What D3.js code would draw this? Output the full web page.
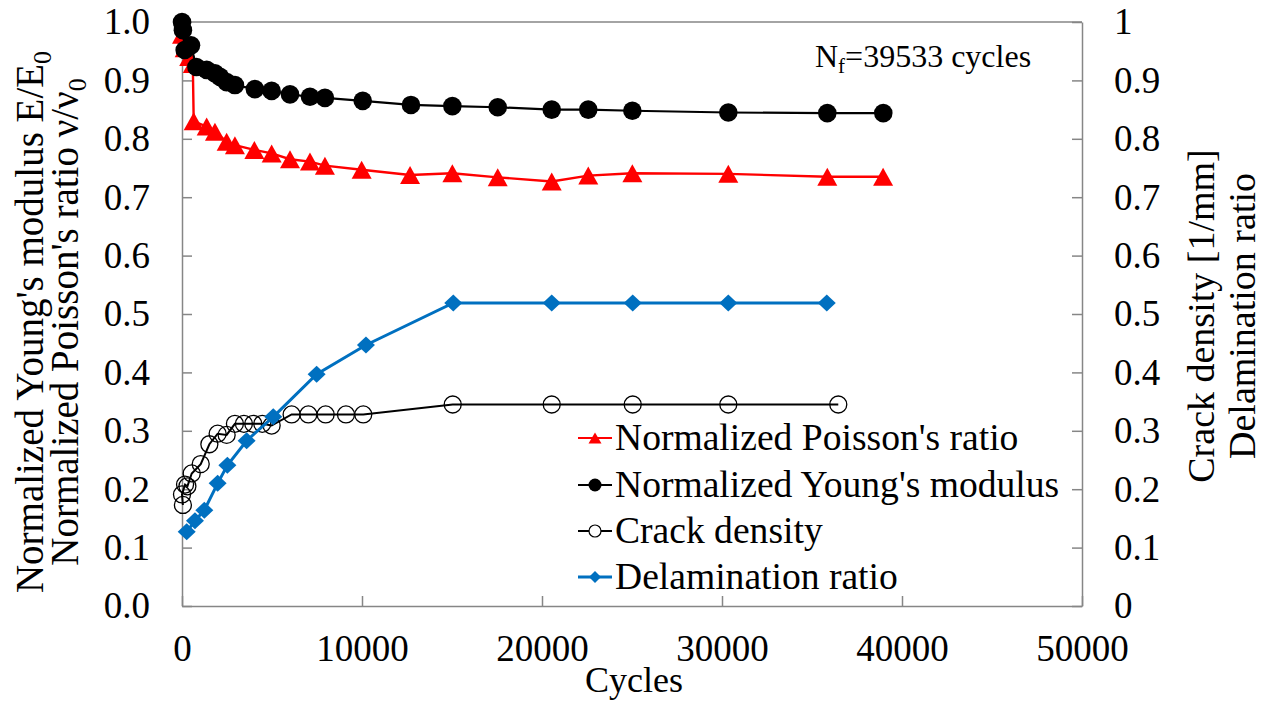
<!DOCTYPE html>
<html>
<head>
<meta charset="utf-8">
<script src="https://cdn.jsdelivr.net/npm/d3@7"></script>
<style>
  html, body { margin: 0; padding: 0; background: #fff; }
</style>
</head>
<body>
<svg id="chart" width="1274" height="704" font-family="Liberation Serif"></svg>
<script>
// ---------------- data ----------------
const poissonCycles = [0, 150, 400, 600, 650, 1370, 1830, 2480, 2940, 4020, 4980, 6000, 7110, 7940, 9980, 12670, 15020, 17540, 20540, 22570, 25020, 30350, 35850, 38950];
const poissonValues = [0.978, 0.955, 0.94, 0.928, 0.830, 0.821, 0.812, 0.795, 0.789, 0.781, 0.775, 0.765, 0.761, 0.754, 0.747, 0.738, 0.741, 0.734, 0.727, 0.737, 0.741, 0.740, 0.735, 0.735];

const youngCycles = [0, 50, 150, 500, 800, 1370, 1830, 2110, 2480, 2940, 4050, 4980, 6000, 7110, 7940, 10040, 12720, 15020, 17540, 20540, 22570, 25020, 30350, 35850, 38960];
const youngValues = [1.0, 0.986, 0.952, 0.96, 0.923, 0.918, 0.912, 0.906, 0.897, 0.892, 0.885, 0.882, 0.876, 0.872, 0.870, 0.865, 0.858, 0.856, 0.854, 0.850, 0.850, 0.848, 0.845, 0.844, 0.844];

const crackCycles = [50, 0, 170, 300, 540, 1040, 1520, 1980, 2480, 2940, 3440, 3960, 4460, 4980, 6090, 7020, 7980, 9110, 10070, 15040, 20540, 25040, 30350, 36460];
const crackValues = [0.173, 0.191, 0.208, 0.205, 0.227, 0.243, 0.277, 0.295, 0.293, 0.312, 0.312, 0.312, 0.312, 0.309, 0.328, 0.328, 0.328, 0.328, 0.328, 0.345, 0.345, 0.345, 0.345, 0.345];

const delamCycles = [260, 720, 1240, 1980, 2520, 3590, 5070, 7480, 10220, 15070, 20540, 25040, 30350, 35820];
const delamValues = [0.127, 0.146, 0.164, 0.210, 0.241, 0.283, 0.324, 0.397, 0.447, 0.519, 0.519, 0.519, 0.519, 0.519];

const xTickValues = [0, 10000, 20000, 30000, 40000, 50000];
const xTickLabels = ["0", "10000", "20000", "30000", "40000", "50000"];
const yTickValues = [0, 0.1, 0.2, 0.3, 0.4, 0.5, 0.6, 0.7, 0.8, 0.9, 1.0];
const yTickLabels = ["0.0", "0.1", "0.2", "0.3", "0.4", "0.5", "0.6", "0.7", "0.8", "0.9", "1.0"];
const y2TickLabels = ["0", "0.1", "0.2", "0.3", "0.4", "0.5", "0.6", "0.7", "0.8", "0.9", "1"];

const legendNames = ["Normalized Poisson's ratio", "Normalized Young's modulus", "Crack density", "Delamination ratio"];

// ---------------- layout ----------------
const FONT = "Liberation Serif";
const svg = d3.select("#chart");
const pLeft = 182, pRight = 1082, pTop = 22, pBottom = 606;
const x = d3.scaleLinear().domain([0, 50000]).range([pLeft, pRight]);
const y = d3.scaleLinear().domain([0, 1]).range([pBottom, pTop]);
const y2 = d3.scaleLinear().domain([0, 1]).range([pBottom, pTop]);
const axisColor = "#868686";
const tickFont = 37;

// top border
svg.append("line").attr("x1", pLeft).attr("x2", pRight).attr("y1", pTop).attr("y2", pTop)
  .attr("stroke", axisColor).attr("stroke-width", 1.5);

function styleAxis(g) {
  g.attr("font-family", FONT).attr("font-size", tickFont);
  g.selectAll("path.domain").attr("stroke", axisColor).attr("stroke-width", 1.5);
  g.selectAll(".tick line").attr("stroke", axisColor).attr("stroke-width", 1.5);
  g.selectAll(".tick text").attr("font-size", tickFont).attr("font-family", FONT).attr("fill", "#000");
}

const xAxis = d3.axisBottom(x).tickValues(xTickValues)
  .tickFormat((d, i) => xTickLabels[i]).tickSizeInner(-10).tickSizeOuter(0).tickPadding(29);
svg.append("g").attr("transform", `translate(0,${pBottom})`).call(xAxis).call(styleAxis);

const yAxis = d3.axisLeft(y).tickValues(yTickValues)
  .tickFormat((d, i) => yTickLabels[i]).tickSizeInner(-10).tickSizeOuter(0).tickPadding(32);
svg.append("g").attr("transform", `translate(${pLeft},0)`).call(yAxis).call(styleAxis);

const y2Axis = d3.axisRight(y2).tickValues(yTickValues)
  .tickFormat((d, i) => y2TickLabels[i]).tickSizeInner(-10).tickSizeOuter(0).tickPadding(32);
svg.append("g").attr("transform", `translate(${pRight},0)`).call(y2Axis).call(styleAxis);

function txt(sel) { return sel.attr("font-family", FONT).attr("fill", "#000"); }

// axis titles
txt(svg.append("text")).attr("x", (pLeft + pRight) / 2 + 2).attr("y", 692)
  .attr("text-anchor", "middle").attr("font-size", 36).text("Cycles");

const lt1 = txt(svg.append("text")).attr("transform", "translate(43,322) rotate(-90)")
  .attr("text-anchor", "middle").attr("font-size", 39);
lt1.append("tspan").text("Normalized Young's modulus E/E");
lt1.append("tspan").attr("font-size", 26).attr("dy", 8).text("0");

const lt2 = txt(svg.append("text")).attr("transform", "translate(78,322) rotate(-90)")
  .attr("text-anchor", "middle").attr("font-size", 39);
lt2.append("tspan").text("Normalized Poisson's ratio ν/ν");
lt2.append("tspan").attr("font-size", 26).attr("dy", 8).text("0");

txt(svg.append("text")).attr("transform", "translate(1214,316) rotate(-90)")
  .attr("text-anchor", "middle").attr("font-size", 38).text("Crack density [1/mm]");
txt(svg.append("text")).attr("transform", "translate(1255,316) rotate(-90)")
  .attr("text-anchor", "middle").attr("font-size", 38).text("Delamination ratio");

// annotation
const ann = txt(svg.append("text")).attr("x", 815).attr("y", 67).attr("font-size", 32);
ann.append("tspan").text("N");
ann.append("tspan").attr("font-size", 21).attr("dy", 6).text("f");
ann.append("tspan").attr("dy", -6).text("=39533 cycles");

// ---------------- series ----------------
const zip = (a, b) => a.map((v, i) => [v, b[i]]);
const lineL = d3.line().x(d => x(d[0])).y(d => y(d[1]));
const lineR = d3.line().x(d => x(d[0])).y(d => y2(d[1]));

function triPath(w, h) { return `M0,${-h/2}L${w/2},${h/2}L${-w/2},${h/2}Z`; }
function diaPath(w, h) { return `M0,${-h/2}L${w/2},0L0,${h/2}L${-w/2},0Z`; }

const poisson = zip(poissonCycles, poissonValues);
const young = zip(youngCycles, youngValues);
const crack = zip(crackCycles, crackValues);
const delam = zip(delamCycles, delamValues);

const gP = svg.append("g");
gP.append("path").datum(poisson).attr("d", lineL).attr("fill", "none").attr("stroke", "#FF0000").attr("stroke-width", 2.4);
gP.selectAll("path.m").data(poisson).join("path").attr("class", "m")
  .attr("transform", d => `translate(${x(d[0])},${y(d[1])})`).attr("d", triPath(20, 18)).attr("fill", "#FF0000");

const gY = svg.append("g");
gY.append("path").datum(young).attr("d", lineL).attr("fill", "none").attr("stroke", "#000").attr("stroke-width", 2.2);
gY.selectAll("circle").data(young).join("circle")
  .attr("cx", d => x(d[0])).attr("cy", d => y(d[1])).attr("r", 9.3).attr("fill", "#000");

const gC = svg.append("g");
gC.append("path").datum(crack).attr("d", lineR).attr("fill", "none").attr("stroke", "#000").attr("stroke-width", 2);
gC.selectAll("circle").data(crack).join("circle")
  .attr("cx", d => x(d[0])).attr("cy", d => y2(d[1])).attr("r", 8.5).attr("fill", "none").attr("stroke", "#000").attr("stroke-width", 1.3);

const gD = svg.append("g");
gD.append("path").datum(delam).attr("d", lineR).attr("fill", "none").attr("stroke", "#0070C0").attr("stroke-width", 3);
gD.selectAll("path.m").data(delam).join("path").attr("class", "m")
  .attr("transform", d => `translate(${x(d[0])},${y2(d[1])})`).attr("d", diaPath(18, 17)).attr("fill", "#0070C0");

// ---------------- legend ----------------
const legColors = ["#FF0000", "#000", "#000", "#0070C0"];
const legY = [438, 485, 531, 577];
const lg = svg.append("g");
legendNames.forEach((name, i) => {
  const cy = legY[i];
  lg.append("line").attr("x1", 578).attr("x2", 612).attr("y1", cy).attr("y2", cy)
    .attr("stroke", legColors[i]).attr("stroke-width", i === 3 ? 3 : 2);
  if (i === 0) lg.append("path").attr("transform", `translate(595,${cy})`).attr("d", triPath(13, 11)).attr("fill", "#FF0000");
  if (i === 1) lg.append("circle").attr("cx", 595).attr("cy", cy).attr("r", 6.5).attr("fill", "#000");
  if (i === 2) lg.append("circle").attr("cx", 595).attr("cy", cy).attr("r", 6).attr("fill", "#fff").attr("stroke", "#000").attr("stroke-width", 1.2);
  if (i === 3) lg.append("path").attr("transform", `translate(595,${cy})`).attr("d", diaPath(12, 12)).attr("fill", "#0070C0");
  txt(lg.append("text")).attr("x", 615).attr("y", cy + 12).attr("font-size", 37.6).text(name);
});
</script>
</body>
</html>
